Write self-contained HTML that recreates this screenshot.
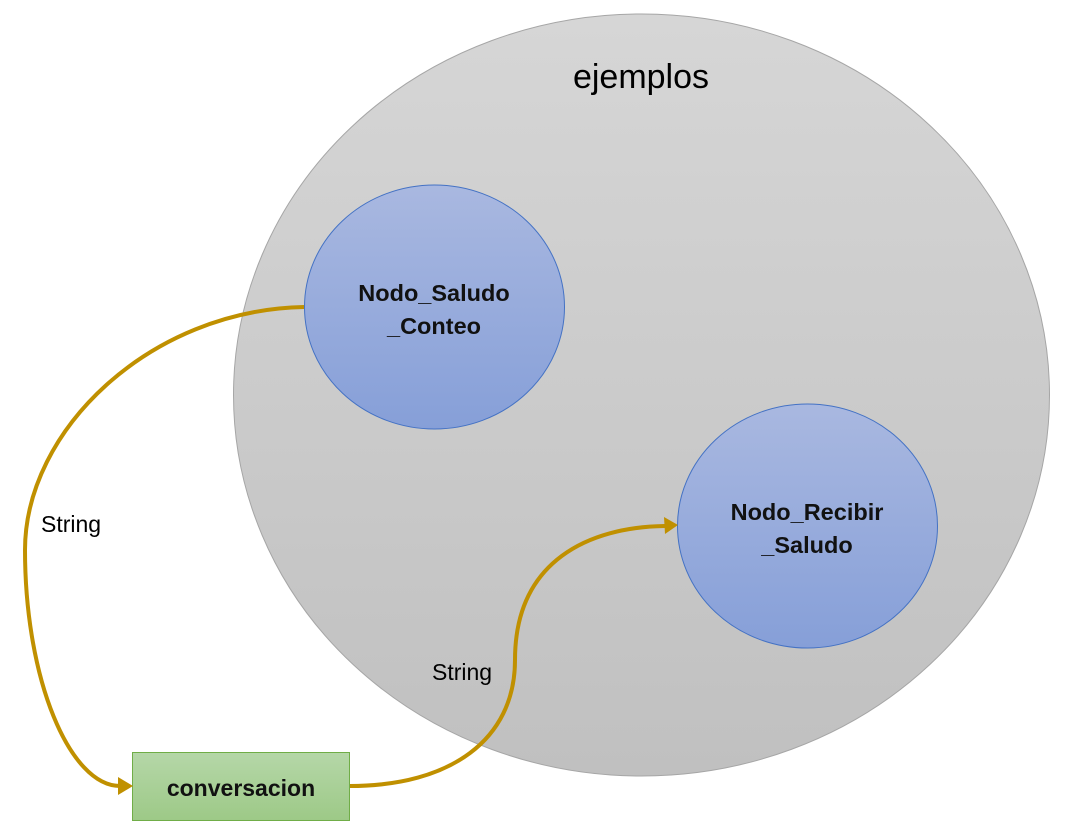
<!DOCTYPE html>
<html><head><style>
html,body{margin:0;padding:0;background:#fff;}
svg{display:block;}
text{font-family:"Liberation Sans",sans-serif;}
</style></head><body>
<svg width="1076" height="834" viewBox="0 0 1076 834" xmlns="http://www.w3.org/2000/svg">
<defs>
<linearGradient id="g1" x1="0" y1="0" x2="0" y2="1"><stop offset="0" stop-color="#d6d6d6"/><stop offset="1" stop-color="#c0c0c0"/></linearGradient>
<linearGradient id="b1" x1="0" y1="0" x2="0" y2="1"><stop offset="0" stop-color="#a9b8e0"/><stop offset="1" stop-color="#869fd8"/></linearGradient>
<linearGradient id="gr" x1="0" y1="0" x2="0" y2="1"><stop offset="0" stop-color="#b5d7a8"/><stop offset="1" stop-color="#9dc987"/></linearGradient>
</defs>
<ellipse cx="641.5" cy="395" rx="408" ry="381" fill="url(#g1)" stroke="#a6a6a6" stroke-width="1"/>
<text x="641" y="88" font-size="34" text-anchor="middle" fill="#000">ejemplos</text>
<ellipse cx="434.5" cy="307" rx="130" ry="122" fill="url(#b1)" stroke="#4472c4" stroke-width="1"/>
<text x="434" y="301" font-size="23.5" text-anchor="middle" font-weight="bold" fill="#111">Nodo_Saludo</text>
<text x="434" y="334" font-size="23.5" text-anchor="middle" font-weight="bold" fill="#111">_Conteo</text>
<ellipse cx="807.5" cy="526" rx="130" ry="122" fill="url(#b1)" stroke="#4472c4" stroke-width="1"/>
<text x="807" y="520" font-size="23.5" text-anchor="middle" font-weight="bold" fill="#111">Nodo_Recibir</text>
<text x="807" y="553" font-size="23.5" text-anchor="middle" font-weight="bold" fill="#111">_Saludo</text>
<rect x="132.5" y="752.5" width="217" height="68" fill="url(#gr)" stroke="#70ad47" stroke-width="1"/>
<text x="241" y="796" font-size="23" text-anchor="middle" font-weight="bold" fill="#111">conversacion</text>
<path d="M304,307 C150,310 25,430 25,550 C25,680 70,786 120,786" fill="none" stroke="#c09000" stroke-width="4"/>
<path d="M118,777 L133,786 L118,795 Z" fill="#c09000"/>
<path d="M350,786 C450,786 515,740 515,660 C515,560 590,527 665,526" fill="none" stroke="#c09000" stroke-width="4"/>
<path d="M664,517 L678,525 L665,534 Z" fill="#c09000"/>
<text x="41" y="532" font-size="23" fill="#000">String</text>
<text x="432" y="680" font-size="23" fill="#000">String</text>
</svg>
</body></html>
